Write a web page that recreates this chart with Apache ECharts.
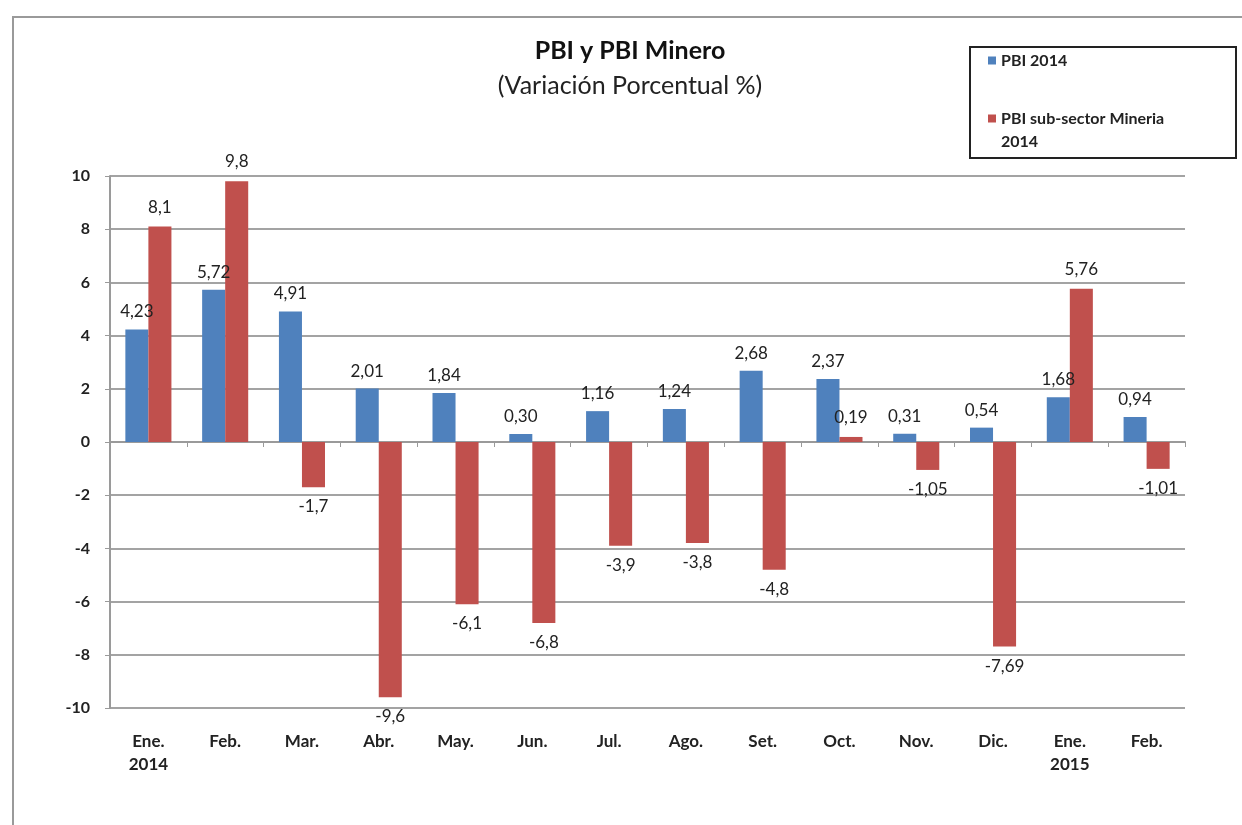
<!DOCTYPE html>
<html>
<head>
<meta charset="utf-8">
<script src="https://cdn.jsdelivr.net/npm/echarts@6/dist/echarts.min.js"></script>
<style>
html,body{margin:0;padding:0;background:#fff;}
#chart{width:1242px;height:825px;}
</style>
</head>
<body>
<div id="chart"></div>
<script>
const categories = ['Ene.\n2014','Feb.','Mar.','Abr.','May.','Jun.','Jul.','Ago.','Set.','Oct.','Nov.','Dic.','Ene.\n2015','Feb.'];
const pbi = [4.23, 5.72, 4.91, 2.01, 1.84, 0.30, 1.16, 1.24, 2.68, 2.37, 0.31, 0.54, 1.68, 0.94];
const mineria = [8.1, 9.8, -1.7, -9.6, -6.1, -6.8, -3.9, -3.8, -4.8, 0.19, -1.05, -7.69, 5.76, -1.01];
const yTicks = [-10, -8, -6, -4, -2, 0, 2, 4, 6, 8, 10];
const seriesNames = ['PBI 2014', 'PBI sub-sector Mineria 2014'];

const FONT = 'Lato, "Open Sans", sans-serif';
const chart = echarts.init(document.getElementById('chart'));

function mkData(arr, fmt) {
  return arr.map(v => ({
    value: v,
    label: { position: v < 0 ? 'bottom' : 'top', formatter: fmt(v) }
  }));
}

chart.setOption({
  animation: false,
  backgroundColor: '#fff',
  title: {
    text: 'PBI y PBI Minero',
    subtext: '(Variación Porcentual %)',
    left: 630,
    textAlign: 'center',
    top: 38,
    padding: 0,
    itemGap: 9,
    textStyle: { fontFamily: FONT, fontSize: 25, fontWeight: 'bold', color: '#111', lineHeight: 26 },
    subtextStyle: { fontFamily: FONT, fontSize: 25, color: '#222', lineHeight: 26 }
  },
  graphic: [
    { type: 'rect', shape: { x: 13, y: 17, width: 1300, height: 900 }, style: { fill: 'none', stroke: '#9a9a9a', lineWidth: 2 }, z: -1 },
    { type: 'rect', shape: { x: 970, y: 47, width: 266, height: 111 }, style: { fill: '#fff', stroke: '#222', lineWidth: 2 }, z: 0 }
  ],
  legend: {
    data: seriesNames,
    orient: 'vertical',
    left: 983,
    top: 44,
    itemGap: 12,
    itemWidth: 8,
    itemHeight: 8,
    icon: 'rect',
    z: 10,
    formatter: n => n === seriesNames[1] ? '\nPBI sub-sector Mineria\n2014' : n,
    textStyle: { fontFamily: FONT, fontSize: 16, fontWeight: 'bold', color: '#222', lineHeight: 23 }
  },
  grid: { left: 110, right: 57, top: 176, bottom: 117 },
  xAxis: [
    {
      type: 'category',
      data: categories,
      position: 'bottom',
      axisLine: { show: false, onZero: false },
      axisTick: { show: false },
      axisLabel: { fontFamily: FONT, fontSize: 17, fontWeight: 'bold', color: '#222', margin: 22, lineHeight: 23, interval: 0 }
    },
    {
      type: 'category',
      data: categories,
      position: 'bottom',
      axisLine: { show: true, onZero: true, lineStyle: { color: '#9a9a9a', width: 2 } },
      axisTick: { show: true, inside: false, length: 5, lineStyle: { color: '#9a9a9a' } },
      axisLabel: { show: false }
    }
  ],
  yAxis: {
    type: 'value',
    min: yTicks[0],
    max: yTicks[yTicks.length - 1],
    interval: 2,
    axisLine: { show: true, lineStyle: { color: '#9a9a9a', width: 2 } },
    axisTick: { show: true, length: 5, lineStyle: { color: '#9a9a9a' } },
    axisLabel: { fontFamily: FONT, fontSize: 16, fontWeight: 'bold', color: '#222', margin: 20 },
    splitLine: { lineStyle: { color: '#a3a3a3', width: 2 } }
  },
  series: [
    {
      name: seriesNames[0],
      type: 'bar',
      xAxisIndex: 0,
      barGap: '0%',
      barCategoryGap: '40%',
      itemStyle: { color: '#4F81BD' },
      label: { show: true, distance: 9, fontFamily: FONT, fontSize: 17, color: '#222' },
      data: mkData(pbi, v => v.toFixed(2).replace('.', ','))
    },
    {
      name: seriesNames[1],
      type: 'bar',
      xAxisIndex: 0,
      itemStyle: { color: '#C0504D' },
      label: { show: true, distance: 11, fontFamily: FONT, fontSize: 17, color: '#222' },
      data: mkData(mineria, v => String(v).replace('.', ','))
    }
  ]
});
</script>
</body>
</html>
